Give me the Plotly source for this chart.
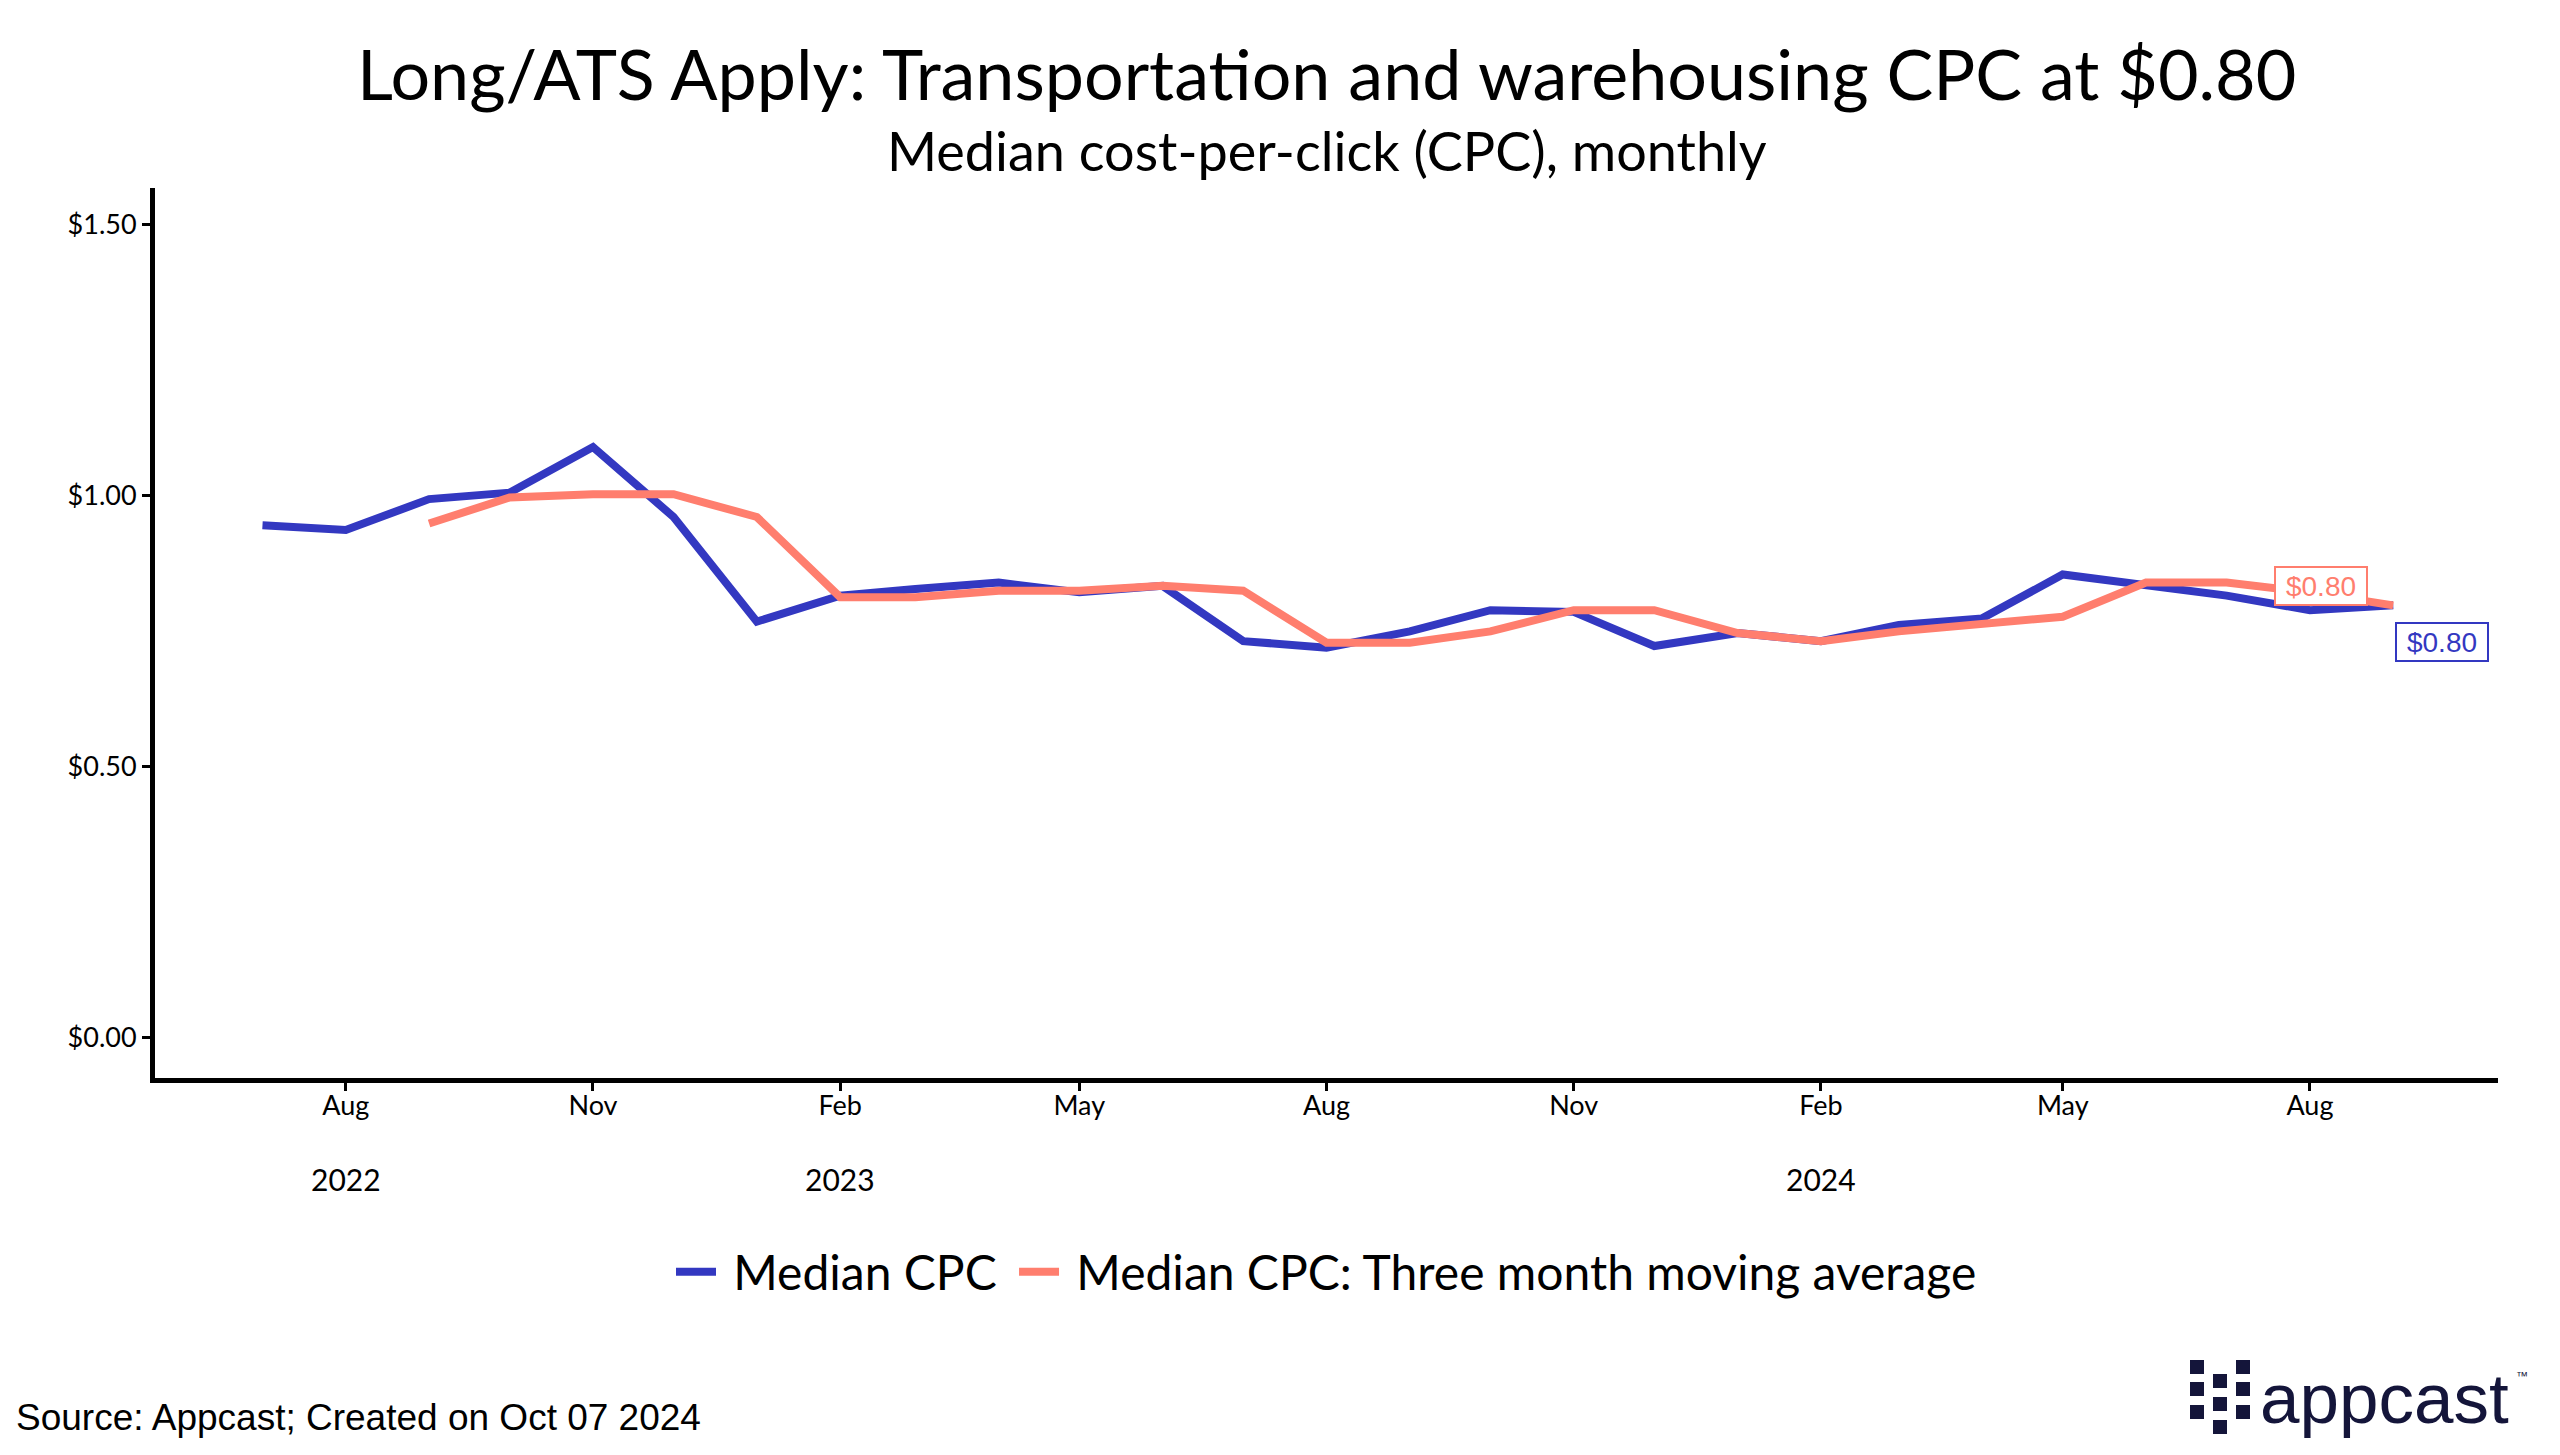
import plotly.graph_objects as go

# ---------------- data ----------------
months = ["2022-07-01", "2022-08-01", "2022-09-01", "2022-10-01", "2022-11-01", "2022-12-01",
          "2023-01-01", "2023-02-01", "2023-03-01", "2023-04-01", "2023-05-01", "2023-06-01",
          "2023-07-01", "2023-08-01", "2023-09-01", "2023-10-01", "2023-11-01", "2023-12-01",
          "2024-01-01", "2024-02-01", "2024-03-01", "2024-04-01", "2024-05-01", "2024-06-01",
          "2024-07-01", "2024-08-01", "2024-09-01"]
median_cpc = [0.946, 0.937, 0.994, 1.006, 1.090, 0.961,
              0.768, 0.816, 0.828, 0.840, 0.822, 0.834,
              0.732, 0.720, 0.750, 0.789, 0.786, 0.723,
              0.747, 0.732, 0.762, 0.774, 0.855, 0.837,
              0.816, 0.789, 0.798]
moving_avg = [None, None, 0.949, 0.997, 1.003, 1.003,
              0.961, 0.813, 0.813, 0.825, 0.825, 0.834,
              0.825, 0.729, 0.729, 0.750, 0.789, 0.789,
              0.747, 0.732, 0.750, 0.765, 0.777, 0.840,
              0.840, 0.822, 0.798]
series_names = ["Median CPC", "Median CPC: Three month moving average"]
tick_dates = ["2022-08-01", "2022-11-01", "2023-02-01", "2023-05-01", "2023-08-01",
              "2023-11-01", "2024-02-01", "2024-05-01", "2024-08-01"]
tick_text = ["Aug", "Nov", "Feb", "May", "Aug", "Nov", "Feb", "May", "Aug"]
year_dates = ["2022-08-01", "2023-02-01", "2024-02-01"]
year_text = ["2022", "2023", "2024"]
y_ticks = [0.0, 0.5, 1.0, 1.5]
y_tick_text = ["$0.00", "$0.50", "$1.00", "$1.50"]
end_labels = ["$0.80", "$0.80"]
label_x = ["2024-08-05", "2024-09-19"]
label_y = [0.834, 0.731]

BLUE = "#3338C1"
SALMON = "#FF7E6E"
NAVY = "#14153A"

W, H = 2560, 1455
ML, MR, MT, MB = 155, 62, 188, 377
PW, PH = W - ML - MR, H - MT - MB


def px(x):
    return (x - ML) / PW


def py(y):
    return (H - MB - y) / PH


fig = go.Figure()
fig.add_trace(go.Scatter(x=months, y=median_cpc, mode="lines", name=" " + series_names[0] + " ",
                         line=dict(color=BLUE, width=8)))
fig.add_trace(go.Scatter(x=months, y=moving_avg, mode="lines", name=" " + series_names[1],
                         line=dict(color=SALMON, width=8)))

annotations = []
# title & subtitle
annotations.append(dict(text="Long/ATS Apply: Transportation and warehousing CPC at $0.80",
                        x=0.5, y=py(73), xref="paper", yref="paper", showarrow=False,
                        xanchor="center", yanchor="middle",
                        font=dict(family="Lato", size=70, color="black")))
annotations.append(dict(text="Median cost-per-click (CPC), monthly",
                        x=0.5, y=py(150), xref="paper", yref="paper", showarrow=False,
                        xanchor="center", yanchor="middle",
                        font=dict(family="Lato", size=54, color="black")))
# years
for d, t in zip(year_dates, year_text):
    annotations.append(dict(text=t, x=d, y=py(1179), xref="x", yref="paper", showarrow=False,
                            xanchor="center", yanchor="middle",
                            font=dict(family="Lato", size=30, color="black")))
# end labels
for t, xx, yy, c in zip(end_labels, label_x, label_y, [SALMON, BLUE]):
    annotations.append(dict(text=t, x=xx, y=yy, xref="x", yref="y", showarrow=False,
                            xanchor="center", yanchor="middle",
                            font=dict(family="Liberation Sans", size=28, color=c),
                            bgcolor="white", bordercolor=c, borderwidth=2, borderpad=3,
                            width=84, height=30))
# source
annotations.append(dict(text="Source: Appcast; Created on Oct 07 2024",
                        x=px(14), y=py(1417), xref="paper", yref="paper", showarrow=False,
                        xanchor="left", yanchor="middle",
                        font=dict(family="Liberation Sans", size=37, color="black")))
# logo text
annotations.append(dict(text="appcast", x=px(2258), y=py(1398), xref="paper", yref="paper",
                        showarrow=False, xanchor="left", yanchor="middle",
                        font=dict(family="Liberation Sans", size=71, color=NAVY)))
annotations.append(dict(text="™", x=px(2514), y=py(1376), xref="paper", yref="paper",
                        showarrow=False, xanchor="left", yanchor="middle",
                        font=dict(family="Liberation Sans", size=12, color=NAVY)))

shapes = []
sq = 14
cols = [2190, 2213, 2236]
rows_outer = [1360, 1382, 1405]
rows_mid = [1374, 1397, 1420]
for ci, cx in enumerate(cols):
    rows = rows_mid if ci == 1 else rows_outer
    for ry in rows:
        shapes.append(dict(type="rect", xref="paper", yref="paper",
                           x0=px(cx), x1=px(cx + sq), y0=py(ry + sq), y1=py(ry),
                           fillcolor=NAVY, line=dict(width=0)))

fig.update_layout(
    width=W, height=H,
    margin=dict(l=ML, r=MR, t=MT, b=MB),
    paper_bgcolor="white", plot_bgcolor="white",
    showlegend=True,
    legend=dict(orientation="h", x=0.5, xanchor="center", y=py(1272), yanchor="middle",
                font=dict(family="Lato", size=48, color="black"), itemwidth=40,
                tracegroupgap=0, itemclick=False),
    annotations=annotations,
    shapes=shapes,
    xaxis=dict(type="date", range=["2022-05-22", "2024-10-10"],
               tickvals=tick_dates, ticktext=tick_text, showgrid=False, zeroline=False,
               showline=True, linecolor="black", linewidth=5, ticks="outside",
               ticklen=8, tickwidth=3, tickcolor="black", ticklabelstandoff=-8,
               tickfont=dict(family="Lato", size=27, color="black")),
    yaxis=dict(range=[-0.074, 1.568], tickvals=y_ticks, ticktext=y_tick_text,
               showgrid=False, zeroline=False, showline=True, linecolor="black", linewidth=5,
               ticks="outside", ticklen=8, tickwidth=3, tickcolor="black",
               tickfont=dict(family="Lato", size=27, color="black")),
)

fig.write_html("out.html")
